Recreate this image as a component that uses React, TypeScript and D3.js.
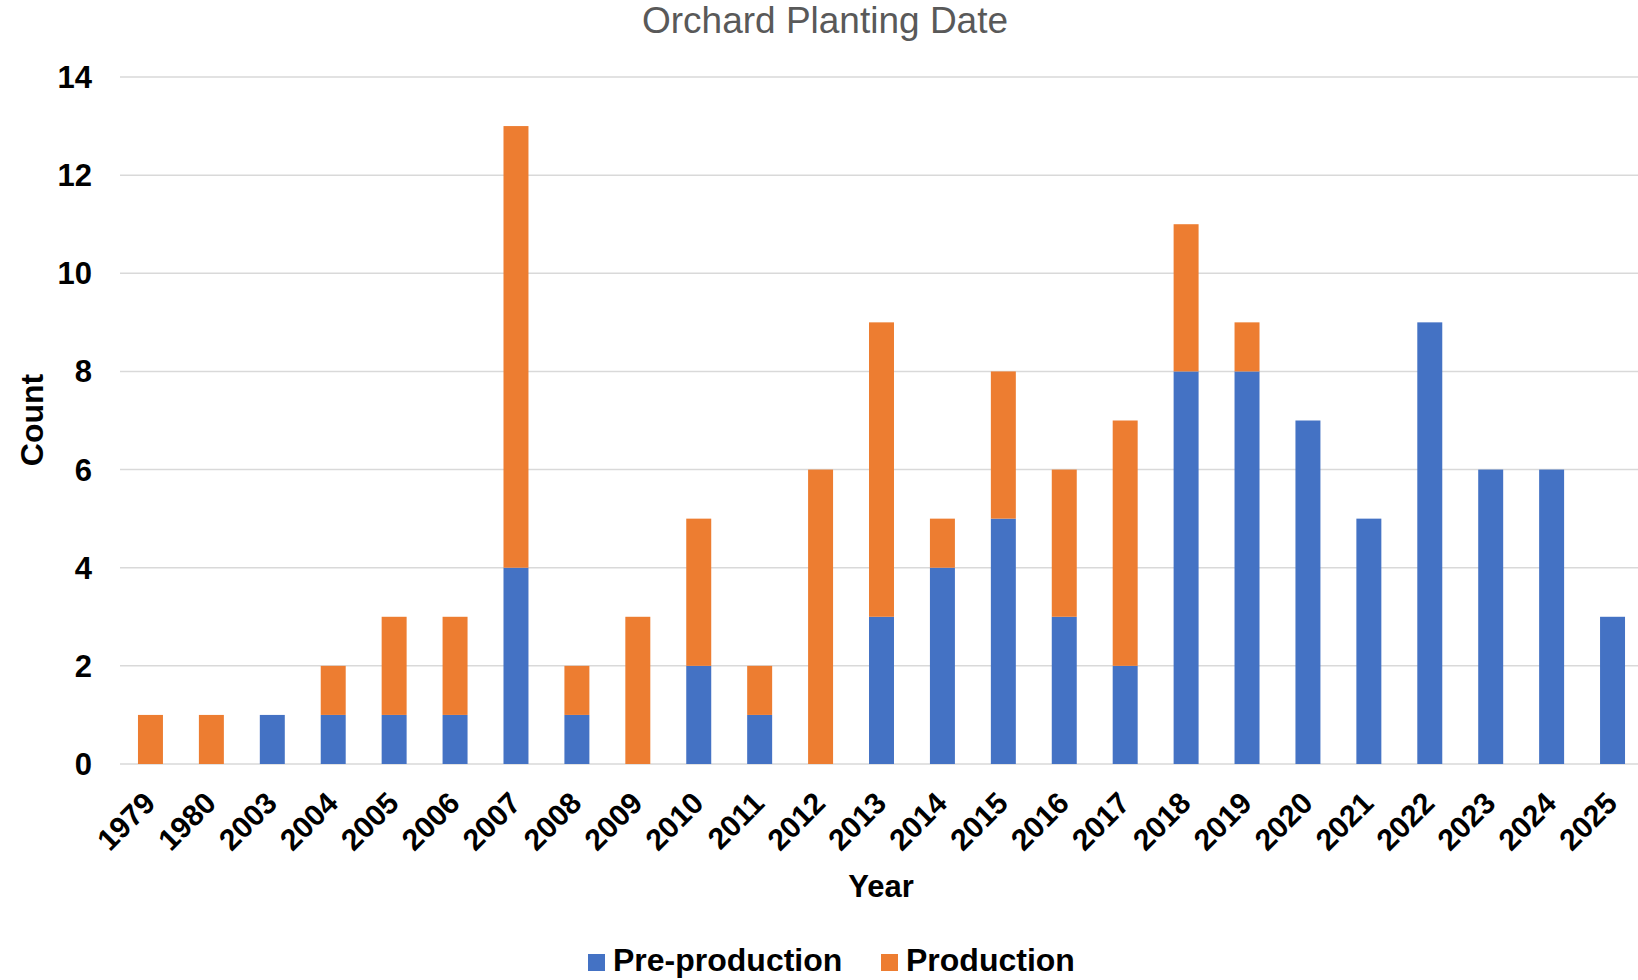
import React from "react";
import * as d3 from "d3";

const years = ["1979","1980","2003","2004","2005","2006","2007","2008","2009","2010","2011","2012","2013","2014","2015","2016","2017","2018","2019","2020","2021","2022","2023","2024","2025"];
const preProduction = [0,0,1,1,1,1,4,1,0,2,1,0,3,4,5,3,2,8,8,7,5,9,6,6,3];
const production = [1,1,0,1,2,2,9,1,3,3,1,6,6,1,3,3,5,3,1,0,0,0,0,0,0];
const yTicks = [0,2,4,6,8,10,12,14];
const seriesNames = ["Pre-production", "Production"];
const colors = ["#4472C4", "#ED7D31"];

const W = 1638, H = 980;
const FONT = "'Liberation Sans', Arial, Helvetica, sans-serif";
const FS = 32;

export default function App() {
  const x = d3.scaleBand<string>().domain(years).range([120, 1643]).paddingInner(0.59).paddingOuter(0.295);
  const y = d3.scaleLinear().domain([0, 14]).range([764, 77]);
  const data = years.map((yr, i) => ({ yr, pre: preProduction[i], prod: production[i] }));
  const stack = d3.stack<any>().keys(["pre", "prod"])(data as any);

  return (
    <svg width={W} height={H} style={{ display: "block", position: "absolute", left: 0, top: 0 }} fontFamily={FONT}>
      <rect width={W} height={H} fill="#fff" />
      <text x={825} y={33} textAnchor="middle" fontSize={37} fill="#595959">Orchard Planting Date</text>
      {yTicks.map(t => (
        <g key={t}>
          <line x1={120} x2={1638} y1={y(t)} y2={y(t)} stroke="#d9d9d9" strokeWidth={1.5} />
          <text x={92} y={y(t) + 11} textAnchor="end" fontSize={31} fontWeight="bold" fill="#000">{t}</text>
        </g>
      ))}
      {stack.map((s, si) => (
        <g key={si} fill={colors[si]}>
          {s.map((d: any, i: number) => {
            const h = y(d[0]) - y(d[1]);
            if (h <= 0) return null;
            return <rect key={i} x={x(years[i])} y={y(d[1])} width={x.bandwidth()} height={h} />;
          })}
        </g>
      ))}
      {years.map(yr => {
        const cx = (x(yr) as number) + x.bandwidth() / 2 + 6.5;
        return (
          <text key={yr} transform={`translate(${cx},805) rotate(-45)`} textAnchor="end" fontSize={30} fontWeight="bold" fill="#000">{yr}</text>
        );
      })}
      <text x={881} y={897} textAnchor="middle" fontSize={31} fontWeight="bold" fill="#000">Year</text>
      <text transform="translate(43,420) rotate(-90)" textAnchor="middle" fontSize={FS} fontWeight="bold" fill="#000">Count</text>
      <rect x={588} y={954} width={17} height={17} fill={colors[0]} />
      <text x={613} y={971} fontSize={FS} fontWeight="bold" fill="#000">{seriesNames[0]}</text>
      <rect x={881} y={954} width={17} height={17} fill={colors[1]} />
      <text x={906} y={971} fontSize={FS} fontWeight="bold" fill="#000">{seriesNames[1]}</text>
    </svg>
  );
}
